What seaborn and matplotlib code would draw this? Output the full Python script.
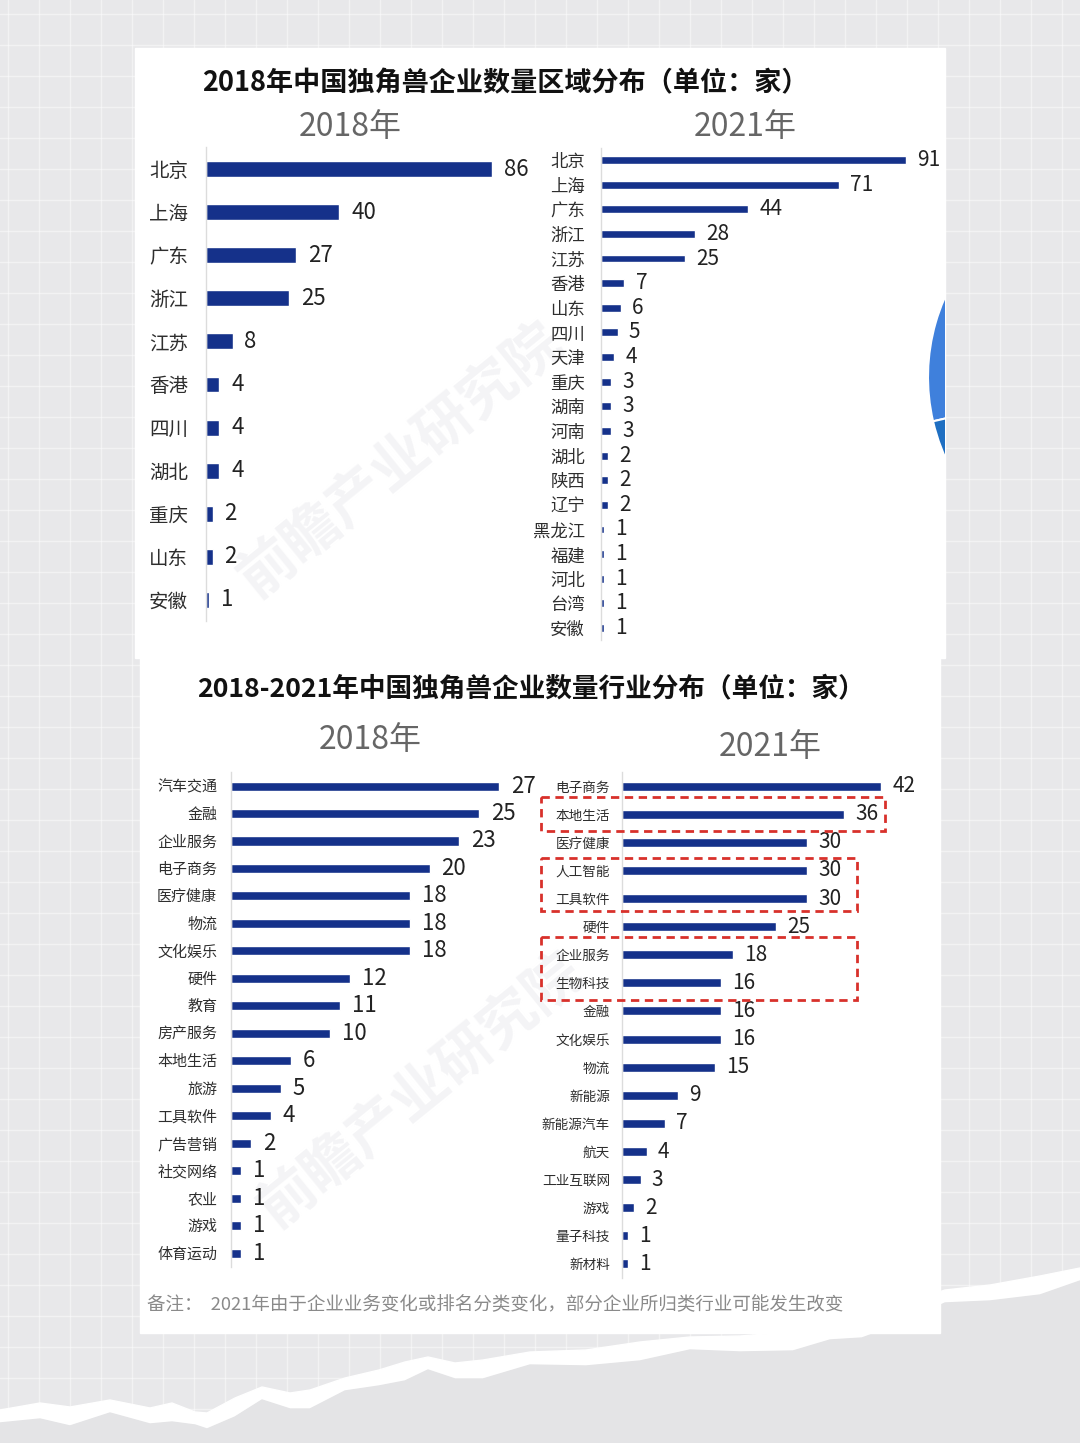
import numpy as np
import pandas as pd
import matplotlib
matplotlib.use('Agg')
import matplotlib.pyplot as plt
import seaborn as sns
from matplotlib.patches import Rectangle, Wedge, Polygon

sns.set_style('white')
plt.rcParams['font.family'] = ['Noto Sans CJK SC', 'DejaVu Sans']

# ---- data ----
region_2018 = ['北京', '上海', '广东', '浙江', '江苏', '香港', '四川', '湖北', '重庆', '山东', '安徽']
region_2018_vals = [86, 40, 27, 25, 8, 4, 4, 4, 2, 2, 1]

region_2021 = ['北京', '上海', '广东', '浙江', '江苏', '香港', '山东', '四川', '天津', '重庆',
               '湖南', '河南', '湖北', '陕西', '辽宁', '黑龙江', '福建', '河北', '台湾', '安徽']
region_2021_vals = [91, 71, 44, 28, 25, 7, 6, 5, 4, 3, 3, 3, 2, 2, 2, 1, 1, 1, 1, 1]

industry_2018 = ['汽车交通', '金融', '企业服务', '电子商务', '医疗健康', '物流', '文化娱乐', '硬件', '教育',
                 '房产服务', '本地生活', '旅游', '工具软件', '广告营销', '社交网络', '农业', '游戏', '体育运动']
industry_2018_vals = [27, 25, 23, 20, 18, 18, 18, 12, 11, 10, 6, 5, 4, 2, 1, 1, 1, 1]

industry_2021 = ['电子商务', '本地生活', '医疗健康', '人工智能', '工具软件', '硬件', '企业服务', '生物科技', '金融',
                 '文化娱乐', '物流', '新能源', '新能源汽车', '航天', '工业互联网', '游戏', '量子科技', '新材料']
industry_2021_vals = [42, 36, 30, 30, 30, 25, 18, 16, 16, 16, 15, 9, 7, 4, 3, 2, 1, 1]

# highlighted groups in the 2021 industry chart
highlight_groups = [['本地生活'], ['人工智能', '工具软件'], ['企业服务', '生物科技']]

title_top = '2018年中国独角兽企业数量区域分布（单位：家）'
title_bottom = '2018-2021年中国独角兽企业数量行业分布（单位：家）'
note = '备注：  2021年由于企业业务变化或排名分类变化，部分企业所归类行业可能发生改变'

bar_color = '#15318a'
W, H = 1080, 1443

fig = plt.figure(figsize=(W / 100, H / 100), dpi=100)


def px_axes(left, top, width, height, **kw):
    return fig.add_axes([left / W, 1 - (top + height) / H, width / W, height / H], **kw)


def px_text(x, y, s, **kw):
    fig.text(x / W, 1 - y / H, s, **kw)


# ---- background: grid paper, card, torn edge ----
bg = px_axes(0, 0, W, H, zorder=-10)
bg.set_xlim(0, W)
bg.set_ylim(H, 0)
bg.axis('off')
bg.add_patch(Rectangle((0, 0), W, H, color='#e8e8ea', zorder=0))
for gx in np.arange(8, W, 31):
    bg.axvline(gx, color='white', lw=1, alpha=0.45, zorder=1)
for gy in np.arange(14, H, 31):
    bg.axhline(gy, color='white', lw=1, alpha=0.45, zorder=1)

tear_x = [0, 40, 70, 110, 150, 172, 195, 207, 235, 262, 290, 310, 345, 379, 405, 428, 455, 483,
          530, 586, 640, 690, 740, 793, 830, 862, 900, 945, 990, 1040, 1080]
tear_y = [1410, 1403, 1407, 1400, 1408, 1403, 1412, 1413, 1398, 1387, 1393, 1390, 1378, 1370, 1362,
          1357, 1363, 1360, 1352, 1350, 1342, 1337, 1336, 1332, 1327, 1322, 1305, 1290, 1285, 1276, 1268]
edge = list(zip(tear_x, tear_y))
bg.add_patch(Polygon(edge + [(W, H), (0, H)], color='white', zorder=2))
edge_low = [(x, y + 13 + (i % 3) * 3) for i, (x, y) in enumerate(edge)]
bg.add_patch(Polygon(edge_low + [(W, H), (0, H)], color='#e4e4e6', zorder=2))

card_top = Rectangle((135, 48), 810, 610, color='white', zorder=3)
card_bot = Rectangle((140, 655), 800, 678, color='white', zorder=3)
bg.add_patch(card_top)
bg.add_patch(card_bot)

# clipped pie fragment at the right edge of the top card
for th1, th2, col in [(167, 225, '#3f80dc'), (135, 167, '#1f6fc2')]:
    wd = Wedge((1125, 377), 197, th1, th2, facecolor=col, edgecolor='white', lw=1.5, zorder=4)
    bg.add_patch(wd)
    wd.set_clip_path(card_top)

# faint watermarks
for wx, wy in [(400, 460), (420, 1090)]:
    bg.text(wx, wy, '前瞻产业研究院', rotation=39, fontsize=41, fontweight='bold',
            color='#f4f4f6', ha='center', va='center', zorder=4)


# ---- bar charts ----
def draw_bars(ax, cats, vals, xmax, bar_w, label_size, value_size, pad, gap):
    df = pd.DataFrame({'cat': cats, 'val': vals})
    sns.barplot(data=df, x='val', y='cat', ax=ax, color=bar_color, width=bar_w,
                orient='h', saturation=1)
    ax.set_xlim(0, xmax)
    ax.set_xlabel('')
    ax.set_ylabel('')
    ax.set_xticks([])
    ax.set_facecolor('none')
    ax.tick_params(axis='y', length=0, pad=pad, labelsize=label_size, labelcolor='#2e2e2e')
    for s in ['top', 'right', 'bottom']:
        ax.spines[s].set_visible(False)
    ax.spines['left'].set_color('#dcdcdc')
    ax.spines['left'].set_linewidth(1)
    for i, v in enumerate(vals):
        ax.annotate(str(v), (v, i), xytext=(gap, 0), textcoords='offset points',
                    va='center', ha='left', fontsize=value_size, color='#222222',
                    annotation_clip=False)


ax1 = px_axes(206, 147.5, 333, 474)
draw_bars(ax1, region_2018, region_2018_vals, 100, 0.37, 14, 16, 13, 8.5)

ax2 = px_axes(601, 147.7, 335, 492.6)
draw_bars(ax2, region_2021, region_2021_vals, 100, 0.32, 12.5, 15, 11.5, 8)

ax3 = px_axes(231, 772.3, 298, 494.5)
draw_bars(ax3, industry_2018, industry_2018_vals, 30, 0.33, 10.8, 16, 10, 8.5)

ax4 = px_axes(622, 772, 308.5, 506)
draw_bars(ax4, industry_2021, industry_2021_vals, 50, 0.32, 9.8, 15, 8.6, 8)

# red dashed highlight boxes (x in data units of ax4)
box_right = [42.6, 38.1, 38.1]
box_pad = [0.6, 0.43, 0.62]
for grp, right, p in zip(highlight_groups, box_right, box_pad):
    idx = [industry_2021.index(g) for g in grp]
    x0 = -13.1
    ax4.add_patch(Rectangle((x0, min(idx) - p), right - x0, max(idx) - min(idx) + 2 * p,
                            fill=False, edgecolor='#d8312b', lw=2, ls=(0, (3, 2)),
                            clip_on=False, zorder=5))

# ---- texts ----
px_text(505, 83, title_top, fontsize=19.5, fontweight='bold', color='#111111', ha='center', va='center')
px_text(350, 127, '2018年', fontsize=23, color='#666666', ha='center', va='center')
px_text(745, 127, '2021年', fontsize=23, color='#666666', ha='center', va='center')

px_text(531, 689, title_bottom, fontsize=19.2, fontweight='bold', color='#111111', ha='center', va='center')
px_text(370, 740, '2018年', fontsize=23, color='#666666', ha='center', va='center')
px_text(770, 747, '2021年', fontsize=23, color='#666666', ha='center', va='center')

px_text(147, 1305, note, fontsize=13.3, color='#8a8a8a', ha='left', va='center')

fig.savefig('out.png', dpi=100)
